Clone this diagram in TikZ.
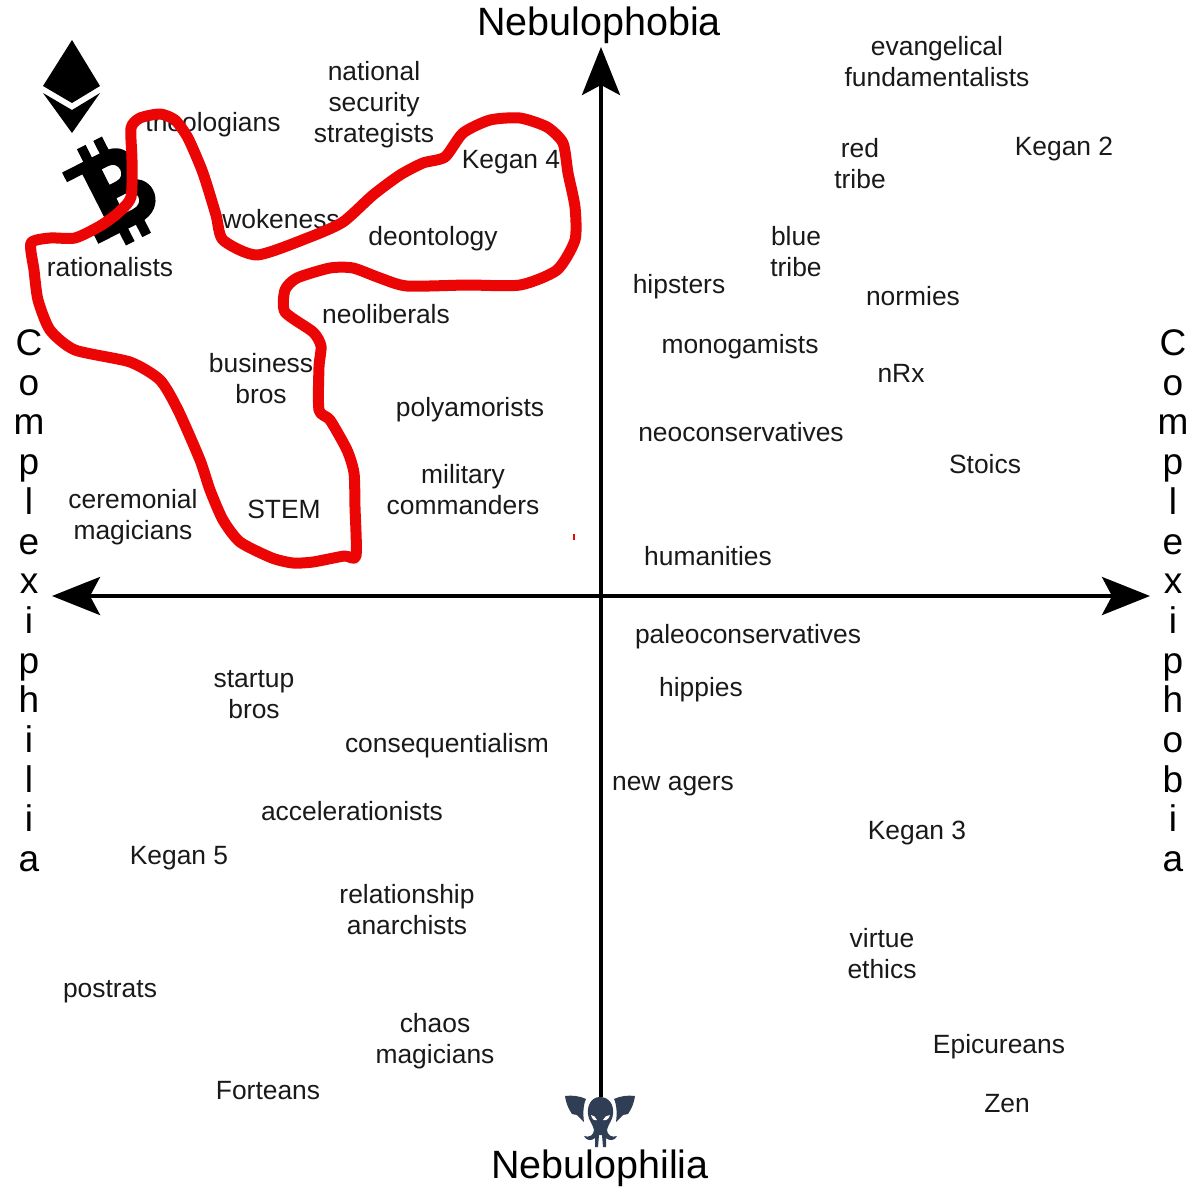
\documentclass[tikz,border=0pt]{standalone}
\usepackage{fontspec}
\setmainfont{Liberation Sans}
\usetikzlibrary{arrows.meta}
\definecolor{squid}{HTML}{2F3D55}
\definecolor{blobred}{HTML}{EC0505}
\tikzset{
  lab/.style={font=\fontsize{26.4}{31}\selectfont,align=center,inner sep=0pt,text=black!90,text depth=0pt},
  axistitle/.style={font=\fontsize{39.5}{42}\selectfont,inner sep=0pt,text depth=0pt},
  sidetitle/.style={font=\fontsize{37}{39.7}\selectfont,align=center,inner sep=0pt},
  axisline/.style={line width=4pt,black,{Stealth[length=48pt,width=38pt,inset=10pt]}-{Stealth[length=48pt,width=38pt,inset=10pt]}},
  blob/.style={line width=11pt,blobred,line join=round,line cap=round}
}
\begin{document}
\begin{tikzpicture}[x=1pt,y=-1pt]
\useasboundingbox (0,0) rectangle (1200,1200);
\fill[white] (0,0) rectangle (1200,1200);
% axes
\coordinate (L) at (52,596);
\coordinate (R) at (1150,596);
\coordinate (T) at (601,47);
\coordinate (B) at (601,1097);
\draw[axisline] (L) -- (R);
\draw[line width=4pt,black,{Stealth[length=48pt,width=38pt,inset=10pt]}-] (T) -- (B);
% titles
\node[axistitle] (nphobia) at (599,21) {Nebulophobia};
\node[axistitle] (nphilia) at (600,1164) {Nebulophilia};
\node[sidetitle,anchor=north] (cphil) at (29,329.5) {C\\o\\m\\p\\l\\e\\x\\i\\p\\h\\i\\l\\i\\a};
\node[sidetitle,anchor=north] (cphob) at (1173,329.5) {C\\o\\m\\p\\l\\e\\x\\i\\p\\h\\o\\b\\i\\a};
% ethereum
\fill (72,40) -- (100,86) -- (72,103) -- (43,86) -- cycle;
\fill (43,93) -- (72,110) -- (100,93) -- (72,133) -- cycle;
% bitcoin
\begin{scope}[shift={(112,192)},y=1pt,rotate=27,scale=1.08]
\fill[even odd rule]
 (-33,37) -- (10,37) .. controls (36,37) and (36,8) .. (20,2)
 .. controls (42,-2) and (40,-37) .. (10,-37) -- (-33,-37) -- (-33,-27) -- (-17,-27) -- (-17,27) -- (-33,27) -- cycle
 (1,23) -- (8,23) .. controls (19,23) and (19,7) .. (8,7) -- (1,7) -- cycle
 (1,-7) -- (10,-7) .. controls (23,-7) and (23,-23) .. (10,-23) -- (1,-23) -- cycle;
\fill (-11,35) rectangle (-2,50);
\fill (6,35) rectangle (15,50);
\fill (-11,-35) rectangle (-2,-50);
\fill (6,-35) rectangle (15,-50);
\end{scope}
% cthulhu
\begin{scope}[squid]
\fill (565,1096) .. controls (572,1095) and (580,1096) .. (586,1099) .. controls (583,1105) and (583,1115) .. (584,1122)
  -- (577,1115) -- (572,1114) .. controls (568,1108) and (566,1103) .. (565,1096) -- cycle;
\fill (635,1096) .. controls (628,1095) and (620,1096) .. (614,1099) .. controls (617,1105) and (617,1115) .. (616,1122)
  -- (623,1115) -- (628,1114) .. controls (632,1108) and (634,1103) .. (635,1096) -- cycle;
\fill (600,1097) .. controls (591,1097) and (587,1106) .. (588,1114) .. controls (589,1122) and (593,1124) .. (594,1130)
  .. controls (594,1135) and (589,1138) .. (584,1136) .. controls (586,1141) and (592,1141) .. (595,1138)
  -- (595,1147) -- (598,1147) -- (599,1135) -- (602,1135) -- (603,1147) -- (606,1147) -- (606,1138)
  .. controls (609,1141) and (615,1141) .. (617,1136) .. controls (612,1138) and (607,1135) .. (607,1130)
  .. controls (608,1124) and (612,1122) .. (613,1114) .. controls (614,1106) and (610,1097) .. (600,1097) -- cycle;
\fill[white] (591,1115) .. controls (593,1115) and (596,1117) .. (597,1120) .. controls (594,1121) and (592,1119) .. (591,1115) -- cycle;
\fill[white] (610,1115) .. controls (607,1115) and (604,1117) .. (603,1120) .. controls (606,1121) and (609,1119) .. (610,1115) -- cycle;
\end{scope}
% labels
\node[lab] (n1) at (937,61) {evangelical\\fundamentalists};
\node[lab] (n2) at (374,102) {national\\security\\strategists};
\node[lab] (n3) at (213,122) {theologians};
\node[lab] (n4) at (860,163) {red\\tribe};
\node[lab] (n5) at (1064,146) {Kegan 2};
\node[lab] (n6) at (511,159) {Kegan 4};
\node[lab] (n7) at (281,219) {wokeness};
\node[lab] (n8) at (433,236) {deontology};
\node[lab] (n9) at (796,251) {blue\\tribe};
\node[lab] (n10) at (110,267) {rationalists};
\node[lab] (n11) at (679,284) {hipsters};
\node[lab] (n12) at (913,296) {normies};
\node[lab] (n13) at (386,314) {neoliberals};
\node[lab] (n14) at (740,344) {monogamists};
\node[lab] (n15) at (261,378) {business\\bros};
\node[lab] (n16) at (901,373) {nRx};
\node[lab] (n17) at (470,407) {polyamorists};
\node[lab] (n18) at (741,432) {neoconservatives};
\node[lab] (n19) at (985,464) {Stoics};
\node[lab] (n20) at (463,489) {military\\commanders};
\node[lab] (n21) at (133,514.5) {ceremonial\\magicians};
\node[lab] (n22) at (284,509) {STEM};
\node[lab] (n23) at (708,556) {humanities};
\node[lab] (n24) at (748,634) {paleoconservatives};
\node[lab] (n25) at (701,687) {hippies};
\node[lab] (n26) at (254,694.5) {startup\\bros};
\node[lab] (n27) at (447,743) {consequentialism};
\node[lab] (n28) at (673,783.5) {new agers};
\node[lab] (n29) at (352,811) {accelerationists};
\node[lab] (n30) at (917,830) {Kegan 3};
\node[lab] (n31) at (179,855) {Kegan 5};
\node[lab] (n32) at (407,909.5) {relationship\\anarchists};
\node[lab] (n33) at (882,953) {virtue\\ethics};
\node[lab] (n34) at (110,989) {postrats};
\node[lab] (n35) at (435,1038.5) {chaos\\magicians};
\node[lab] (n36) at (999,1044) {Epicureans};
\node[lab] (n37) at (268,1090) {Forteans};
\node[lab] (n38) at (1007,1103) {Zen};
% red outline
\draw[blob] plot[smooth cycle,tension=0.4] coordinates {
(75,238) (100,226) (118,213) (131,197) (132,160) (131,128) (140,118) (160,114) (175,120) (188,138) (203,173) (216,215)
(223,240) (257,255) (310,237) (343,222) (373,195) (400,175) (423,163) (445,157) (463,133) (490,120) (520,118) (547,127)
(563,143) (568,173) (575,207) (575,240) (557,270) (520,285) (467,285) (407,286) (380,278) (353,268) (330,268) (297,278)
(285,290) (285,312) (313,332) (321,346) (319,367) (319,410) (330,420) (347,450) (354,473) (355,507) (356,556) (344,556)
(313,562) (293,563) (272,558) (240,542) (223,520) (210,490) (200,460) (178,410) (160,380) (130,362) (75,350) (50,330)
(38,300) (34,270) (31,243) (50,238)};
\fill[blobred] (573,534) rectangle (574.5,540);
\end{tikzpicture}
\end{document}
